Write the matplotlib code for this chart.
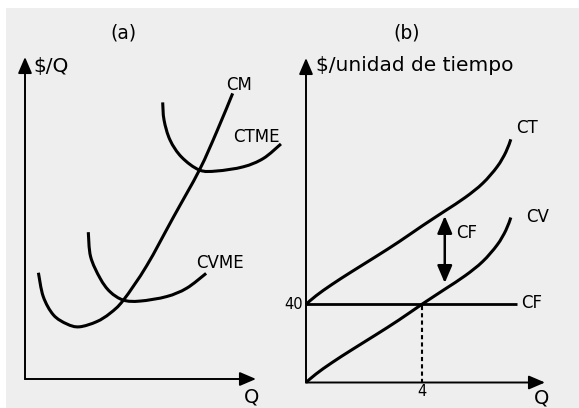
import numpy as np
import matplotlib
matplotlib.use('Agg')
import matplotlib.pyplot as plt
from matplotlib.path import Path
from matplotlib.patches import PathPatch, Rectangle

# ---- panel (a): curvas de costo medio y marginal ----
cm_q = [0.58, 0.79, 1.23, 1.81, 2.35, 3.10, 3.68, 4.26, 5.27, 6.42, 7.55, 8.30, 8.99]
cm_c = [3.30, 2.56, 1.99, 1.71, 1.62, 1.78, 2.04, 2.45, 3.52, 5.02, 6.49, 7.68, 8.87]
cvme_q = [2.74, 2.84, 3.25, 3.68, 4.26, 4.98, 6.13, 7.00, 7.84]
cvme_c = [4.56, 3.80, 3.13, 2.71, 2.45, 2.42, 2.56, 2.82, 3.28]
ctme_q = [5.96, 6.02, 6.28, 6.78, 7.55, 8.30, 9.45, 10.32, 11.08]
ctme_c = [8.59, 8.04, 7.42, 6.89, 6.49, 6.46, 6.59, 6.85, 7.30]

# ---- panel (b): costos totales ----
cf = 40
q_ref = 4
cv_q = [0, 0.35, 0.9, 1.6, 2.4, 3.2, 4.0, 4.8, 5.5, 6.1, 6.6, 6.9, 7.07]
cv_c = [0, 4.4, 10.2, 16.9, 24.3, 31.9, 40.0, 47.8, 54.7, 61.9, 70.4, 77.9, 84.4]
ct_c = [c + cf for c in cv_c]

W, H = 579, 408
fig = plt.figure(figsize=(W / 100, H / 100), dpi=100)
fig.patch.set_facecolor('white')
fig.add_artist(Rectangle((6 / W, -0.1), 1.2, 1.1 - 8 / H, transform=fig.transFigure,
                         fc='#eeeeee', ec='none', zorder=-10))

FS = 12      # etiquetas de curvas
FT = 14.5    # titulos de ejes
FP = 13.5    # (a), (b)


def smooth(ax, xs, ys, lw=2.2):
    # curva suave que pasa por los puntos (Catmull-Rom -> Bezier)
    p = np.column_stack([xs, ys]).astype(float)
    ext = np.vstack([p[0], p, p[-1]])
    verts = [p[0]]
    codes = [Path.MOVETO]
    for i in range(len(p) - 1):
        a, b, c, d = ext[i], ext[i + 1], ext[i + 2], ext[i + 3]
        verts += [b + (c - a) / 6, c - (d - b) / 6, c]
        codes += [Path.CURVE4] * 3
    ax.add_patch(PathPatch(Path(verts, codes), fill=False, lw=lw, ec='black',
                           capstyle='butt', clip_on=False))


def axes_arrows(ax, xmax, ymax):
    kw = dict(arrowstyle='-|>,head_length=0.7,head_width=0.3', color='black',
              lw=1.4, shrinkA=0, shrinkB=0, mutation_scale=14)
    ax.annotate('', xy=(xmax, 0), xytext=(0, 0), arrowprops=kw, annotation_clip=False)
    ax.annotate('', xy=(0, ymax), xytext=(0, 0), arrowprops=kw, annotation_clip=False)


# panel (a)
ax1 = fig.add_axes([25 / W, (H - 379) / H, 231 / W, 322 / H])
ax1.set_xlim(0, 10)
ax1.set_ylim(0, 10)
ax1.axis('off')
axes_arrows(ax1, 10, 10)
smooth(ax1, cm_q, cm_c)
smooth(ax1, cvme_q, cvme_c)
smooth(ax1, ctme_q, ctme_c)
ax1.text(4.24, 10.75, '(a)', fontsize=FP, ha='center', va='center')
ax1.text(0.35, 9.72, '$/Q', fontsize=FT, ha='left', va='center')
ax1.text(9.81, -0.55, 'Q', fontsize=14, ha='center', va='center')
ax1.text(8.7, 9.13, 'CM', fontsize=FS, ha='left', va='center')
ax1.text(8.99, 7.52, 'CTME', fontsize=FS, ha='left', va='center')
ax1.text(7.4, 3.59, 'CVME', fontsize=FS, ha='left', va='center')

# panel (b)
ax2 = fig.add_axes([306 / W, (H - 382.5) / H, 239 / W, 324.5 / H])
ax2.set_xlim(0, 8.25)
ax2.set_ylim(0, 166)
ax2.axis('off')
axes_arrows(ax2, 8.25, 166)
ax2.plot([0, 7.3], [cf, cf], color='black', lw=2.0, solid_capstyle='butt', clip_on=False)
ax2.plot([q_ref, q_ref], [0, cf], color='black', lw=1.5, ls=(0, (2, 1.5)), clip_on=False)
smooth(ax2, cv_q, cv_c)
smooth(ax2, cv_q, ct_c)
ax2.annotate('', xy=(4.79, 85.2), xytext=(4.79, 50.9),
             arrowprops=dict(arrowstyle='<|-|>,head_length=0.75,head_width=0.32',
                             color='black', lw=1.8, shrinkA=0, shrinkB=0,
                             mutation_scale=14))
ax2.text(3.48, 178.8, '(b)', fontsize=FP, ha='center', va='center')
ax2.text(0.34, 162.0, '$/unidad de tiempo', fontsize=FT, ha='left', va='center')
ax2.text(8.14, -7.9, 'Q', fontsize=14, ha='center', va='center')
ax2.text(q_ref, -4.5, str(q_ref), fontsize=10.5, ha='center', va='center')
ax2.text(-0.12, cf, str(cf), fontsize=10.5, ha='right', va='center')
ax2.text(7.25, 130, 'CT', fontsize=FS, ha='left', va='center')
ax2.text(7.59, 84.8, 'CV', fontsize=FS, ha='left', va='center')
ax2.text(7.42, 40.8, 'CF', fontsize=FS, ha='left', va='center')
ax2.text(5.19, 76.3, 'CF', fontsize=FS, ha='left', va='center')

fig.savefig('out.png', dpi=100)
